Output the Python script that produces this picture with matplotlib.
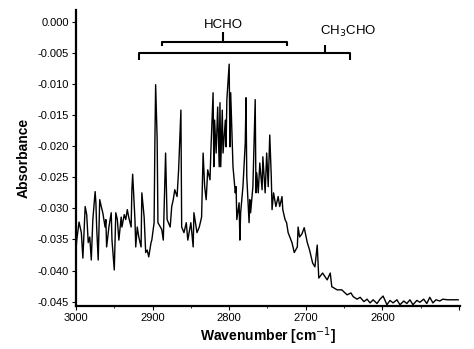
import matplotlib.pyplot as plt
from matplotlib import font_manager
from matplotlib.ticker import MultipleLocator, FixedLocator

# Spectrum (wavenumber in cm-1, absorbance)
wavenumber = [3000, 2999, 2996, 2993, 2991, 2988, 2986, 2984, 2982, 2980,
              2978, 2975, 2974, 2973, 2971, 2969, 2967, 2965, 2962, 2961,
              2960, 2957, 2954, 2953, 2950, 2948, 2946, 2944, 2941, 2940,
              2937, 2935, 2933, 2931, 2928, 2927, 2926, 2923, 2922, 2920,
              2918, 2915, 2914, 2911, 2909, 2907, 2905, 2902, 2901, 2898,
              2897, 2896, 2894, 2893, 2888, 2886, 2883, 2881, 2877, 2875,
              2873, 2871, 2868, 2866, 2863, 2862, 2859, 2856, 2854, 2850,
              2847, 2846, 2842, 2839, 2836, 2834, 2832, 2830, 2828, 2825,
              2824, 2821, 2820, 2819, 2817, 2815, 2813, 2812, 2811, 2809,
              2808, 2805, 2804, 2803, 2800, 2799, 2798, 2796, 2795, 2792,
              2791, 2790, 2787, 2786, 2785, 2782, 2779, 2778, 2777, 2774,
              2773, 2772, 2769, 2766, 2765, 2764, 2762, 2760, 2757, 2756,
              2753, 2751, 2749, 2747, 2745, 2744, 2742, 2739, 2736, 2734,
              2731, 2730, 2727, 2725, 2723, 2718, 2715, 2711, 2710, 2708,
              2705, 2702, 2698, 2695, 2691, 2688, 2685, 2683, 2678, 2672,
              2668, 2666, 2659, 2653, 2646, 2641, 2638, 2633, 2629, 2624,
              2620, 2616, 2612, 2607, 2603, 2599, 2594, 2590, 2586, 2581,
              2577, 2572, 2568, 2564, 2560, 2555, 2551, 2546, 2542, 2538,
              2534, 2530, 2525, 2521, 2515, 2501]
absorbance = [-0.0367, -0.0351, -0.0322, -0.0339, -0.0380, -0.0297, -0.0310, -0.0355, -0.0346, -0.0383,
              -0.0318, -0.0273, -0.0291, -0.0330, -0.0383, -0.0286, -0.0297, -0.0307, -0.0330, -0.0318,
              -0.0362, -0.0330, -0.0307, -0.0351, -0.0399, -0.0307, -0.0318, -0.0351, -0.0314, -0.0330,
              -0.0310, -0.0318, -0.0302, -0.0315, -0.0330, -0.0270, -0.0245, -0.0318, -0.0362, -0.0330,
              -0.0346, -0.0362, -0.0275, -0.0314, -0.0371, -0.0367, -0.0378, -0.0355, -0.0351, -0.0323,
              -0.0195, -0.0101, -0.0190, -0.0323, -0.0334, -0.0351, -0.0211, -0.0318, -0.0330, -0.0297,
              -0.0286, -0.0270, -0.0281, -0.0238, -0.0142, -0.0330, -0.0339, -0.0323, -0.0351, -0.0323,
              -0.0362, -0.0307, -0.0339, -0.0330, -0.0314, -0.0211, -0.0265, -0.0286, -0.0238, -0.0254,
              -0.0212, -0.0114, -0.0233, -0.0158, -0.0211, -0.0137, -0.0233, -0.0130, -0.0233, -0.0142,
              -0.0211, -0.0158, -0.0201, -0.0125, -0.0068, -0.0201, -0.0114, -0.0190, -0.0233, -0.0275,
              -0.0265, -0.0318, -0.0291, -0.0351, -0.0307, -0.0265, -0.0195, -0.0122, -0.0249, -0.0323,
              -0.0286, -0.0307, -0.0265, -0.0125, -0.0275, -0.0243, -0.0275, -0.0227, -0.0270, -0.0217,
              -0.0275, -0.0211, -0.0265, -0.0182, -0.0249, -0.0302, -0.0275, -0.0297, -0.0281, -0.0297,
              -0.0281, -0.0302, -0.0318, -0.0323, -0.0339, -0.0355, -0.0371, -0.0362, -0.0330, -0.0346,
              -0.0341, -0.0331, -0.0355, -0.0367, -0.0388, -0.0394, -0.0359, -0.0412, -0.0404, -0.0415,
              -0.0404, -0.0426, -0.0431, -0.0431, -0.0439, -0.0436, -0.0442, -0.0446, -0.0443, -0.0450,
              -0.0446, -0.0452, -0.0447, -0.0453, -0.0446, -0.0441, -0.0455, -0.0448, -0.0452, -0.0447,
              -0.0455, -0.0449, -0.0453, -0.0447, -0.0455, -0.0448, -0.0451, -0.0446, -0.0453, -0.0443,
              -0.0452, -0.0447, -0.0449, -0.0446, -0.0447, -0.0447]

x_ticks = [3000, 2900, 2800, 2700, 2600, 2500]
x_tick_labels = ['3000', '2900', '2800', '2700', '2600', '']
y_ticks = [0.000, -0.005, -0.010, -0.015, -0.020, -0.025, -0.030, -0.035, -0.040, -0.045]

# Band assignments (x span and stem in wavenumber)
hcho_span = (2888, 2725)
hcho_stem = 2808
ch3cho_span = (2918, 2642)
ch3cho_stem = 2675

names = {f.name for f in font_manager.fontManager.ttflist}
narrow = 'Liberation Sans Narrow' if 'Liberation Sans Narrow' in names else 'Liberation Sans'
plt.rcParams['font.family'] = ['Liberation Sans', 'DejaVu Sans']

fig = plt.figure(figsize=(4.74, 3.49), dpi=100)
ax = fig.add_axes([0.1603, 0.1232, 0.810, 0.848])

ax.plot(wavenumber, absorbance, color='black', lw=1.0)

ax.set_xlim(3000, 2498.7)
ax.set_ylim(-0.0457, 0.0019)

ax.xaxis.set_major_locator(FixedLocator(x_ticks))
ax.set_xticklabels(x_tick_labels)
ax.xaxis.set_minor_locator(MultipleLocator(50))
ax.yaxis.set_major_locator(FixedLocator(y_ticks))
ax.set_yticklabels(['%.3f' % v for v in y_ticks])

ax.spines['top'].set_visible(False)
ax.spines['right'].set_visible(False)
ax.spines['left'].set_linewidth(1.6)
ax.spines['bottom'].set_linewidth(1.6)
ax.tick_params(axis='both', which='major', direction='out', length=3, width=0.8,
               labelsize=8, pad=2)
ax.tick_params(axis='x', which='minor', direction='out', length=1.5, width=0.6)

ax.set_ylabel('Absorbance', fontsize=10, fontweight='bold', labelpad=5)
ax.set_xlabel('Wavenumber [cm$^{-1}$]', fontsize=10, fontweight='bold', labelpad=2)

# brackets marking the bands
bk = dict(color='black', lw=1.5, clip_on=False, solid_capstyle='butt')
ax.plot([hcho_span[0], hcho_span[0], hcho_span[1], hcho_span[1]],
        [-0.0039, -0.0032, -0.0032, -0.0039], **bk)
ax.plot([hcho_stem, hcho_stem], [-0.0032, -0.0016], **bk)
ax.text(hcho_stem, -0.0005, 'HCHO', ha='center', va='center', fontsize=9.5, family=narrow)

ax.plot([ch3cho_span[0], ch3cho_span[0], ch3cho_span[1], ch3cho_span[1]],
        [-0.0061, -0.0050, -0.0050, -0.0061], **bk)
ax.plot([ch3cho_stem, ch3cho_stem], [-0.0050, -0.0037], **bk)
ax.text(ch3cho_stem + 7, -0.0016, 'CH$_3$CHO', ha='left', va='center', fontsize=9.5, family=narrow)

fig.savefig('out.png', dpi=100)
